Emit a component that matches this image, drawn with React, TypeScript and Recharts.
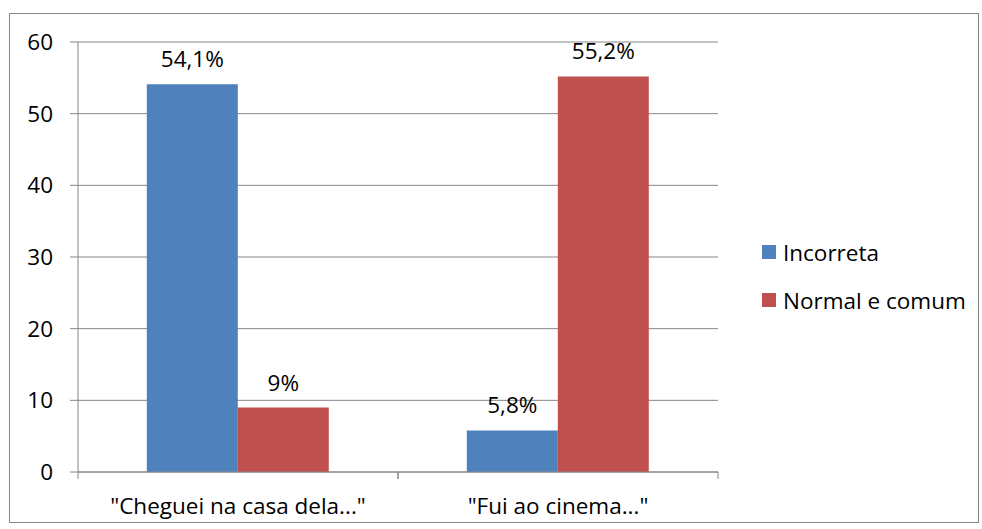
import { BarChart, Bar, XAxis, YAxis, CartesianGrid, Legend, LabelList } from 'recharts'

const categories = ['"Cheguei na casa dela..."', '"Fui ao cinema..."']
const incorreta = [54.1, 5.8]
const normalComum = [9, 55.2]
const yTicks = [0, 10, 20, 30, 40, 50, 60]

const seriesNames = ['Incorreta', 'Normal e comum']
const colors = ['#4F81BD', '#C0504D']

const data = categories.map((name, i) => ({
  name,
  incorreta: incorreta[i],
  normal: normalComum[i],
}))

const FONT = "'Open Sans', sans-serif"
const FS = 22.5
const GRID = '#868686'

const fmt = (v: any) => String(v).replace('.', ',') + '%'

function CategoryTick(props: any) {
  const { x, y, payload } = props
  const half = payload?.offset || 160
  return (
    <g>
      <line x1={x - half} x2={x - half} y1={y} y2={y + 7} stroke={GRID} />
      <line x1={x + half} x2={x + half} y1={y} y2={y + 7} stroke={GRID} />
      <text
        x={x}
        y={y + 33}
        textAnchor="middle"
        dominantBaseline="central"
        fontFamily={FONT}
        fontSize={FS}
        fill="#000"
      >
        {payload.value}
      </text>
    </g>
  )
}

function LegendContent() {
  return (
    <div style={{ fontFamily: FONT, fontSize: FS, color: '#000', whiteSpace: 'nowrap' }}>
      {seriesNames.map((n, i) => (
        <div key={n} style={{ display: 'flex', alignItems: 'center', height: 48 }}>
          <span style={{ width: 14, height: 14, flex: 'none', background: colors[i], marginRight: 7 }} />
          <span>{n}</span>
        </div>
      ))}
    </div>
  )
}

export default function App() {
  return (
    <div style={{ position: 'absolute', left: 0, top: 0, width: 982, height: 529, background: '#fff' }}>
      <div
        style={{
          position: 'absolute',
          left: 9,
          top: 13,
          width: 970,
          height: 510,
          border: `1px solid ${GRID}`,
          boxSizing: 'border-box',
          pointerEvents: 'none',
        }}
      />
      <BarChart
        width={982}
        height={529}
        data={data}
        margin={{ top: 42, right: 64, bottom: 0, left: 0 }}
        barCategoryGap="21.5%"
        barGap={0}
      >
        <CartesianGrid vertical={false} stroke={GRID} />
        <XAxis
          dataKey="name"
          height={57}
          stroke={GRID}
          tickLine={false}
          tickSize={0}
          tickMargin={0}
          tick={<CategoryTick />}
        />
        <YAxis
          width={78}
          domain={[0, 60]}
          ticks={yTicks}
          stroke={GRID}
          tickSize={8}
          tickMargin={17}
          tick={{ fill: '#000', fontFamily: FONT, fontSize: FS }}
        />
        <Legend
          layout="vertical"
          align="right"
          verticalAlign="middle"
          wrapperStyle={{ width: 200, left: 762, top: 228 }}
          content={<LegendContent />}
        />
        <Bar dataKey="incorreta" name={seriesNames[0]} fill={colors[0]} isAnimationActive={false}>
          <LabelList dataKey="incorreta" position="top" offset={17} formatter={fmt} fill="#000" fontFamily={FONT} fontSize={FS} />
        </Bar>
        <Bar dataKey="normal" name={seriesNames[1]} fill={colors[1]} isAnimationActive={false}>
          <LabelList dataKey="normal" position="top" offset={17} formatter={fmt} fill="#000" fontFamily={FONT} fontSize={FS} />
        </Bar>
      </BarChart>
    </div>
  )
}
